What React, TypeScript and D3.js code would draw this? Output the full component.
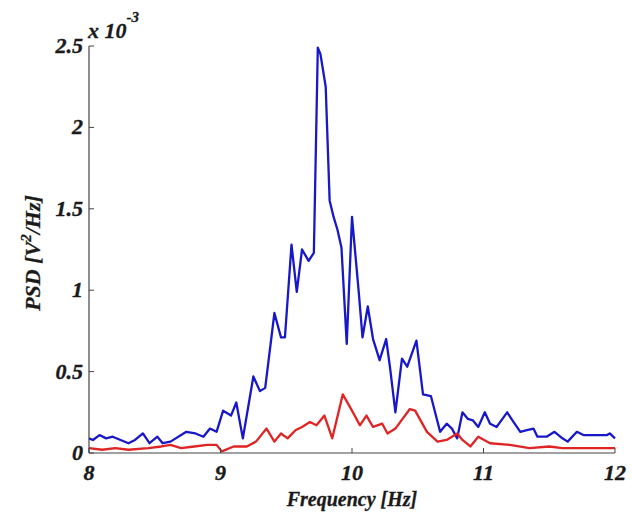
import React from "react";
import * as d3 from "d3";

const blueFreq = [8.00,8.03,8.08,8.13,8.18,8.24,8.30,8.35,8.41,8.46,8.52,8.56,8.62,8.74,8.81,8.87,8.92,8.97,9.02,9.08,9.12,9.17,9.25,9.30,9.34,9.41,9.46,9.49,9.54,9.58,9.62,9.67,9.71,9.74,9.76,9.80,9.83,9.86,9.89,9.92,9.96,10.00,10.05,10.08,10.12,10.16,10.21,10.26,10.29,10.33,10.38,10.42,10.49,10.54,10.60,10.67,10.72,10.76,10.80,10.84,10.88,10.92,10.96,11.01,11.05,11.10,11.18,11.22,11.28,11.33,11.38,11.41,11.48,11.54,11.60,11.64,11.71,11.76,11.86,11.94,11.96,12.00];
const blueVal = [0.09,0.08,0.11,0.09,0.10,0.08,0.06,0.08,0.12,0.06,0.10,0.06,0.07,0.13,0.12,0.10,0.15,0.13,0.26,0.23,0.31,0.09,0.47,0.38,0.40,0.86,0.71,0.71,1.28,0.99,1.25,1.18,1.23,2.49,2.45,2.25,1.55,1.45,1.37,1.26,0.67,1.45,1.00,0.71,0.90,0.70,0.57,0.70,0.52,0.25,0.58,0.53,0.69,0.36,0.35,0.13,0.18,0.15,0.09,0.25,0.21,0.20,0.16,0.25,0.18,0.16,0.25,0.20,0.13,0.14,0.15,0.10,0.10,0.13,0.09,0.07,0.13,0.11,0.11,0.11,0.12,0.09];

const redFreq = [8.00,8.10,8.20,8.30,8.45,8.55,8.62,8.70,8.80,8.90,8.97,9.01,9.10,9.20,9.27,9.35,9.41,9.46,9.51,9.57,9.62,9.68,9.73,9.79,9.85,9.93,10.00,10.06,10.11,10.16,10.23,10.27,10.33,10.44,10.48,10.57,10.65,10.72,10.80,10.84,10.90,10.96,11.05,11.20,11.35,11.50,11.60,11.80,12.00];
const redVal = [0.03,0.02,0.03,0.02,0.03,0.04,0.05,0.03,0.04,0.05,0.05,0.01,0.04,0.04,0.07,0.15,0.07,0.12,0.09,0.14,0.16,0.19,0.17,0.23,0.09,0.36,0.26,0.17,0.23,0.16,0.18,0.12,0.15,0.27,0.26,0.13,0.07,0.08,0.12,0.08,0.04,0.10,0.06,0.05,0.03,0.04,0.03,0.03,0.03];

const xTicks = [8, 9, 10, 11, 12];
const yTicks = [0, 0.5, 1, 1.5, 2, 2.5];
const xTickLabels = ["8", "9", "10", "11", "12"];
const yTickLabels = ["0", "0.5", "1", "1.5", "2", "2.5"];

export default function App() {
  const W = 632, H = 517;
  const left = 89, right = 615, top = 46, bottom = 453;
  const x = d3.scaleLinear().domain([8, 12]).range([left, right]);
  const y = d3.scaleLinear().domain([0, 2.5]).range([bottom, top]);
  const line = d3.line<[number, number]>().x(d => x(d[0])).y(d => y(d[1]));
  const blue = line(blueFreq.map((f, i) => [f, blueVal[i]] as [number, number])) || "";
  const red = line(redFreq.map((f, i) => [f, redVal[i]] as [number, number])) || "";
  const font = "'Liberation Serif', 'Times New Roman', serif";
  const axisColor = "#444";
  const txt = "#1a1a1a";
  return (
    <svg width={W} height={H} style={{ position: "absolute", left: 0, top: 0, background: "#fff" }}>
      <rect width={W} height={H} fill="#fff" />
      <path d={blue} fill="none" stroke="#1818c8" strokeWidth={2.3} strokeLinejoin="round" />
      <path d={red} fill="none" stroke="#e02424" strokeWidth={2.3} strokeLinejoin="round" />
      <line x1={left} x2={left} y1={top} y2={bottom} stroke={axisColor} strokeWidth={1.2} />
      <line x1={left} x2={right} y1={bottom} y2={bottom} stroke={axisColor} strokeWidth={1.2} />
      {xTicks.map((t, i) => (
        <g key={"x" + i}>
          <line x1={x(t)} x2={x(t)} y1={bottom} y2={bottom - 5} stroke={axisColor} strokeWidth={1} />
          <text x={x(t)} y={bottom + 27} textAnchor="middle" fontFamily={font} fontStyle="italic" fontWeight="bold" fontSize={22} fill={txt} stroke={txt} strokeWidth={0.4}>{xTickLabels[i]}</text>
        </g>
      ))}
      {yTicks.map((t, i) => (
        <g key={"y" + i}>
          <line x1={left} x2={left + 5} y1={y(t)} y2={y(t)} stroke={axisColor} strokeWidth={1} />
          <text x={left - 6} y={y(t) + 7} textAnchor="end" fontFamily={font} fontStyle="italic" fontWeight="bold" fontSize={22} fill={txt} stroke={txt} strokeWidth={0.4}>{yTickLabels[i]}</text>
        </g>
      ))}
      <text x={88} y={38} fontFamily={font} fontStyle="italic" fontWeight="bold" fontSize={22} fill={txt} stroke={txt} strokeWidth={0.3}>
        x 10<tspan dy={-16} fontSize={15}>-3</tspan>
      </text>
      <text x={352} y={506} textAnchor="middle" fontFamily={font} fontStyle="italic" fontWeight="bold" fontSize={20} fill={txt} stroke={txt} strokeWidth={0.3}>Frequency [Hz]</text>
      <text transform="translate(40,253) rotate(-90)" textAnchor="middle" fontFamily={font} fontStyle="italic" fontWeight="bold" fontSize={22} fill={txt} stroke={txt} strokeWidth={0.3}>
        PSD [V<tspan dy={-9} fontSize={15}>2</tspan><tspan dy={9}>/Hz]</tspan>
      </text>
    </svg>
  );
}
